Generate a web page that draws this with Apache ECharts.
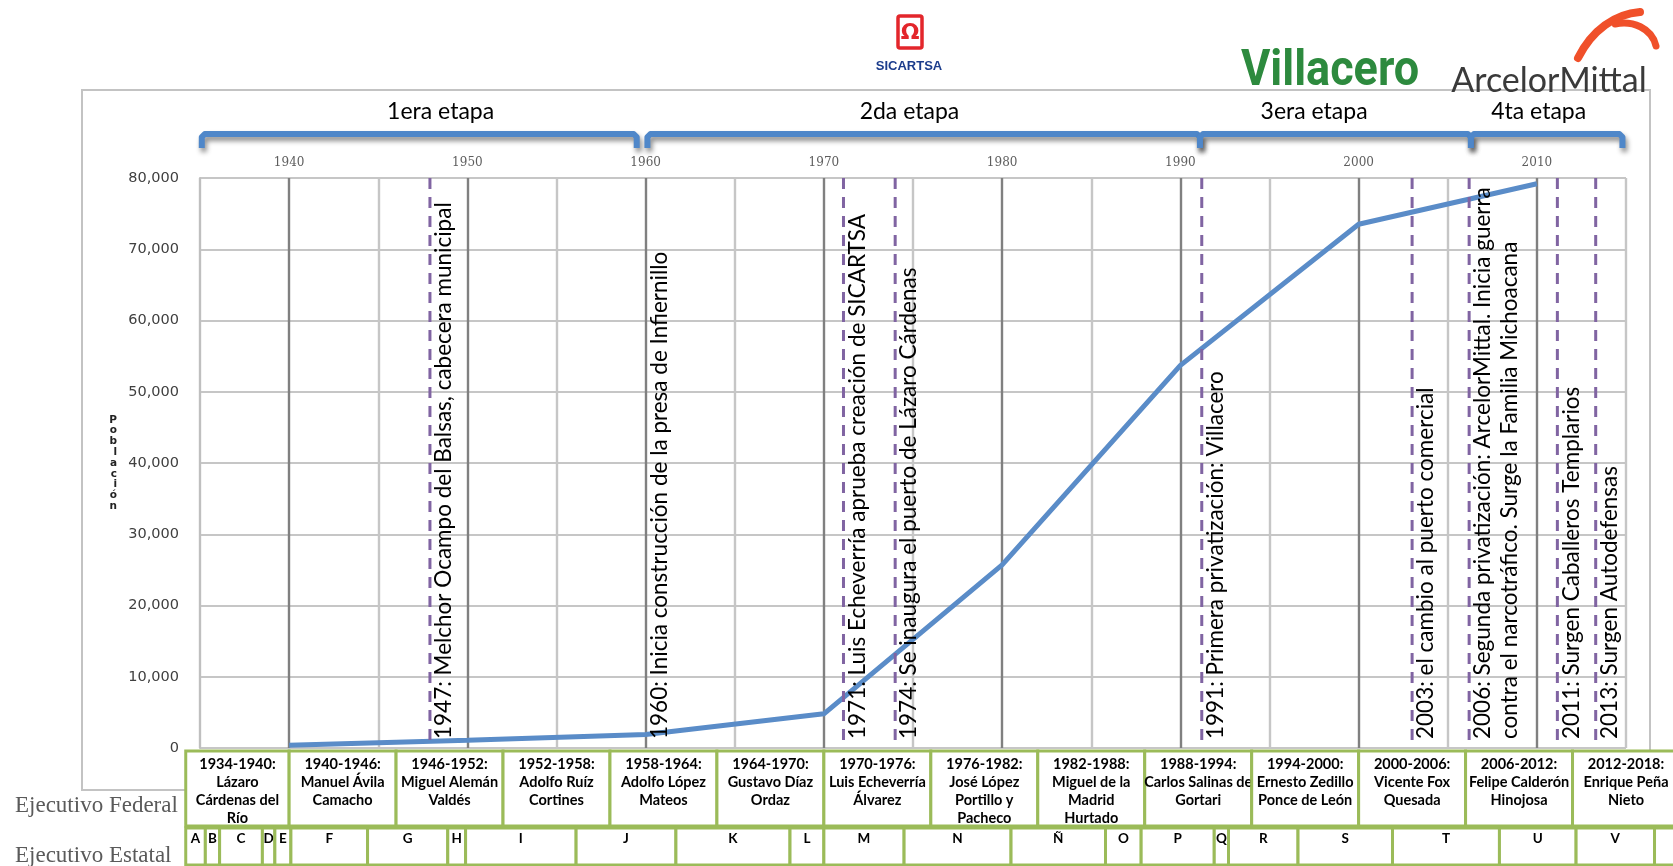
<!DOCTYPE html>
<html><head><meta charset="utf-8">
<script src="https://cdn.jsdelivr.net/npm/echarts@6/dist/echarts.min.js"></script>
<style>html,body{margin:0;padding:0;background:#fff}#c{width:1673px;height:866px}</style>
</head><body><div id="c"></div>
<script>
// ---- data ----
const censusYears = [1940, 1950, 1960, 1970, 1980, 1990, 2000, 2010];
const population = [400, 1100, 1900, 4800, 25700, 53700, 73500, 79200];
const yearTickLabels = [1940, 1950, 1960, 1970, 1980, 1990, 2000, 2010];

const eventYears = [1947.9, 1960.0, 1971.1, 1974.0, 1991.2, 2003.0, 2006.2, 2011.15, 2013.3];
const eventDashed = [true, false, true, true, true, true, true, true, true];
const eventLabels = [
  '1947: Melchor Ocampo del Balsas, cabecera municipal',
  '1960: Inicia construcción de la presa de Infiernillo',
  '1971: Luis Echeverría aprueba creación de SICARTSA',
  '1974: Se inaugura el puerto de Lázaro Cárdenas',
  '1991: Primera privatización: Villacero',
  '2003: el cambio al puerto comercial',
  '2006: Segunda privatización: ArcelorMittal. Inicia guerra\ncontra el narcotráfico. Surge la Familia Michoacana',
  '2011: Surgen Caballeros Templarios',
  '2013: Surgen Autodefensas'
];

const phaseStart = [1935.1, 1960.1, 1991.1, 2006.3];
const phaseEnd = [1959.5, 1991.1, 2006.3, 2014.8];
const phaseLabelYear = [1948.5, 1974.8, 1997.5, 2010.1];
const phaseLabels = ['1era etapa', '2da etapa', '3era etapa', '4ta etapa'];

const federalStart = [1934.2, 1940, 1946, 1952, 1958, 1964, 1970, 1976, 1982, 1988, 1994, 2000, 2006, 2012];
const federalEnd = [1940, 1946, 1952, 1958, 1964, 1970, 1976, 1982, 1988, 1994, 2000, 2006, 2012, 2018];
const federalLabels = [
  '1934-1940:\nLázaro\nCárdenas del\nRío',
  '1940-1946:\nManuel Ávila\nCamacho',
  '1946-1952:\nMiguel Alemán\nValdés',
  '1952-1958:\nAdolfo Ruíz\nCortines',
  '1958-1964:\nAdolfo López\nMateos',
  '1964-1970:\nGustavo Díaz\nOrdaz',
  '1970-1976:\nLuis Echeverría\nÁlvarez',
  '1976-1982:\nJosé López\nPortillo y\nPacheco',
  '1982-1988:\nMiguel de la\nMadrid\nHurtado',
  '1988-1994:\nCarlos Salinas de\nGortari',
  '1994-2000:\nErnesto Zedillo\nPonce de León',
  '2000-2006:\nVicente Fox\nQuesada',
  '2006-2012:\nFelipe Calderón\nHinojosa',
  '2012-2018:\nEnrique Peña\nNieto'
];

const stateStart = [1934.2, 1935.3, 1936.1, 1938.5, 1939.2, 1940.1, 1944.4, 1948.9, 1949.9, 1956.1, 1961.7, 1968.1, 1970.0, 1974.5, 1980.5, 1985.8, 1987.8, 1991.9, 1992.7, 1996.6, 2001.9, 2007.9, 2012.2, 2016.6];
const stateEnd = [1935.3, 1936.1, 1938.5, 1939.2, 1940.1, 1944.4, 1948.9, 1949.9, 1956.1, 1961.7, 1968.1, 1970.0, 1974.5, 1980.5, 1985.8, 1987.8, 1991.9, 1992.7, 1996.6, 2001.9, 2007.9, 2012.2, 2016.6, 2020];
const stateLabels = ['A','B','C','D','E','F','G','H','I','J','K','L','M','N','Ñ','O','P','Q','R','S','T','U','V',''];

// ---- chart ----
const chart = echarts.init(document.getElementById('c'));
const GREEN = '#9BBB59';

function cellRenderer(labels, topOff, h, fontSize, lineH, padTop) {
  return function (params, api) {
    const i = params.dataIndex;
    const cs = params.coordSys;
    const x1 = api.coord([api.value(0), 0])[0];
    const x2 = api.coord([api.value(1), 0])[0];
    const top = cs.y + cs.height + topOff;
    return {
      type: 'group',
      children: [
        { type: 'rect', shape: { x: x1, y: top, width: x2 - x1, height: h },
          style: { fill: '#fff', stroke: GREEN, lineWidth: 3 } },
        { type: 'text', x: (x1 + x2) / 2, y: top + padTop,
          style: { text: labels[i], align: 'center', verticalAlign: 'top',
            fontFamily: 'Lato', fontWeight: 'bold', fontSize: fontSize, lineHeight: lineH, fill: '#000' } }
      ]
    };
  };
}

const option = {
  animation: false,
  backgroundColor: '#fff',
  grid: { left: 200, right: 47, top: 178, bottom: 118, containLabel: false },
  xAxis: {
    type: 'value', min: 1935, max: 2015, interval: 5, position: 'top',
    axisLine: { show: false }, axisTick: { show: false },
    axisLabel: {
      formatter: v => (yearTickLabels.indexOf(v) >= 0 ? String(v) : ''),
      color: '#5e5e5e', fontFamily: 'DejaVu Serif', fontSize: 12, margin: 9
    },
    splitLine: { show: true, lineStyle: { color: ['#c6c6c6', '#808080'], width: 2.4 } }
  },
  yAxis: {
    type: 'value', min: 0, max: 80000, interval: 10000,
    axisLine: { show: true, lineStyle: { color: '#bfbfbf', width: 2 } },
    axisTick: { show: false },
    axisLabel: {
      formatter: v => v.toLocaleString('en-US'),
      color: '#404040', fontFamily: 'DejaVu Sans', fontSize: 14.5, margin: 21
    },
    splitLine: { lineStyle: { color: '#c6c6c6', width: 2 } },
    name: 'Población'.split('').join('\n'),
    nameLocation: 'middle', nameRotate: 0, nameGap: 83,
    nameTextStyle: { fontSize: 10.5, fontWeight: 'bold', lineHeight: 10.8, color: '#222', fontFamily: 'DejaVu Sans' }
  },
  series: [
    {
      type: 'line', name: 'Población', z: 3,
      data: censusYears.map((y, i) => [y, population[i]]),
      showSymbol: false, symbol: 'none',
      lineStyle: { color: '#5A8CC8', width: 5 }
    },
    {
      type: 'custom', name: 'eventos', z: 6, clip: false,
      data: eventYears.map(y => [y, 0]),
      renderItem: function (params, api) {
        const i = params.dataIndex;
        const p0 = api.coord([api.value(0), 0]);
        const p1 = api.coord([api.value(0), 80000]);
        const ch = [];
        if (eventDashed[i]) {
          ch.push({ type: 'line', shape: { x1: p0[0], y1: p1[1], x2: p0[0], y2: p0[1] },
            style: { stroke: '#8064A2', lineWidth: 3, lineDash: [11, 8] } });
        }
        ch.push({ type: 'text', x: p0[0] + 0.5, y: p0[1] - 9, rotation: Math.PI / 2,
          style: { text: eventLabels[i], align: 'left', verticalAlign: 'top',
            fontFamily: 'Lato', fontSize: 22.5, lineHeight: 27, fill: '#000' } });
        return { type: 'group', children: ch };
      }
    },
    {
      type: 'custom', name: 'etapas', z: 6, clip: false,
      data: phaseStart.map((s, i) => [s, phaseEnd[i]]),
      renderItem: function (params, api) {
        const i = params.dataIndex;
        const cs = params.coordSys;
        const x1 = api.coord([api.value(0), 0])[0];
        const x2 = api.coord([api.value(1), 0])[0];
        const yl = cs.y - 44, yt = cs.y - 30;
        const lx = api.coord([phaseLabelYear[i], 0])[0];
        const sty = { fill: null, stroke: '#4F87C9', lineWidth: 6, lineJoin: 'round',
          shadowColor: 'rgba(0,0,0,0.45)', shadowBlur: 5, shadowOffsetX: 2, shadowOffsetY: 4 };
        return {
          type: 'group',
          children: [
            { type: 'polyline', shape: { points: [[x1, yt], [x1, yl + 3], [x1 + 3, yl], [x2 - 3, yl], [x2, yl + 3], [x2, yt]] },
              style: sty },
            { type: 'text', x: lx, y: cs.y - 66,
              style: { text: phaseLabels[i], align: 'center', verticalAlign: 'middle',
                fontFamily: 'Lato', fontSize: 23, fill: '#000' } }
          ]
        };
      }
    },
    {
      type: 'custom', name: 'Ejecutivo Federal', z: 10, clip: false,
      data: federalStart.map((s, i) => [s, federalEnd[i]]),
      renderItem: cellRenderer(federalLabels, 3, 75, 14.5, 18, 4)
    },
    {
      type: 'custom', name: 'Ejecutivo Estatal', z: 10, clip: false,
      data: stateStart.map((s, i) => [s, stateEnd[i]]),
      renderItem: cellRenderer(stateLabels, 80, 37, 13.5, 16, 3)
    }
  ],
  graphic: [
    { type: 'rect', z: 0, shape: { x: 82, y: 90, width: 1568, height: 700 },
      style: { fill: null, stroke: '#c3c3c3', lineWidth: 2 } },
    { type: 'text', z: 20, x: 15, y: 806,
      style: { text: 'Ejecutivo Federal', fontFamily: 'Liberation Serif', fontSize: 23, fill: '#5a5a5a', verticalAlign: 'middle' } },
    { type: 'text', z: 20, x: 15, y: 856,
      style: { text: 'Ejecutivo Estatal', fontFamily: 'Liberation Serif', fontSize: 23, fill: '#5a5a5a', verticalAlign: 'middle' } },
    // SICARTSA logo
    { type: 'rect', z: 20, shape: { x: 898, y: 16, width: 24, height: 32, r: 2 },
      style: { fill: '#fff', stroke: '#E3262B', lineWidth: 3.5 } },
    { type: 'text', z: 21, x: 910, y: 33,
      style: { text: 'Ω', fontFamily: 'DejaVu Sans', fontWeight: 'bold', fontSize: 22, fill: '#E3262B', align: 'center', verticalAlign: 'middle' } },
    { type: 'text', z: 20, x: 909, y: 66,
      style: { text: 'SICARTSA', fontFamily: 'Liberation Sans', fontWeight: 'bold', fontSize: 13, fill: '#1B3C8C', align: 'center', verticalAlign: 'middle' } },
    // Villacero logo
    { type: 'text', z: 20, x: 1330, y: 72, scaleX: 0.9,
      style: { text: 'Villacero', fontFamily: 'Roboto', fontWeight: 'bold', fontSize: 50, fill: '#2D8A3E', align: 'center', verticalAlign: 'middle' } },
    // ArcelorMittal logo
    { type: 'text', z: 20, x: 1549, y: 81,
      style: { text: 'ArcelorMittal', fontFamily: 'Lato', fontSize: 34, fill: '#3a3a3a', align: 'center', verticalAlign: 'middle' } },
    { type: 'bezierCurve', z: 20, shape: { x1: 1578, y1: 58, cpx1: 1592, cpy1: 30, cpx2: 1615, cpy2: 14, x2: 1640, y2: 12 },
      style: { fill: null, stroke: '#F0502A', lineWidth: 8, lineCap: 'round' } },
    { type: 'bezierCurve', z: 20, shape: { x1: 1615, y1: 24, cpx1: 1632, cpy1: 20, cpx2: 1652, cpy2: 28, x2: 1656, y2: 46 },
      style: { fill: null, stroke: '#F0502A', lineWidth: 7, lineCap: 'round' } }
  ]
};
chart.setOption(option);
</script>
</body></html>
